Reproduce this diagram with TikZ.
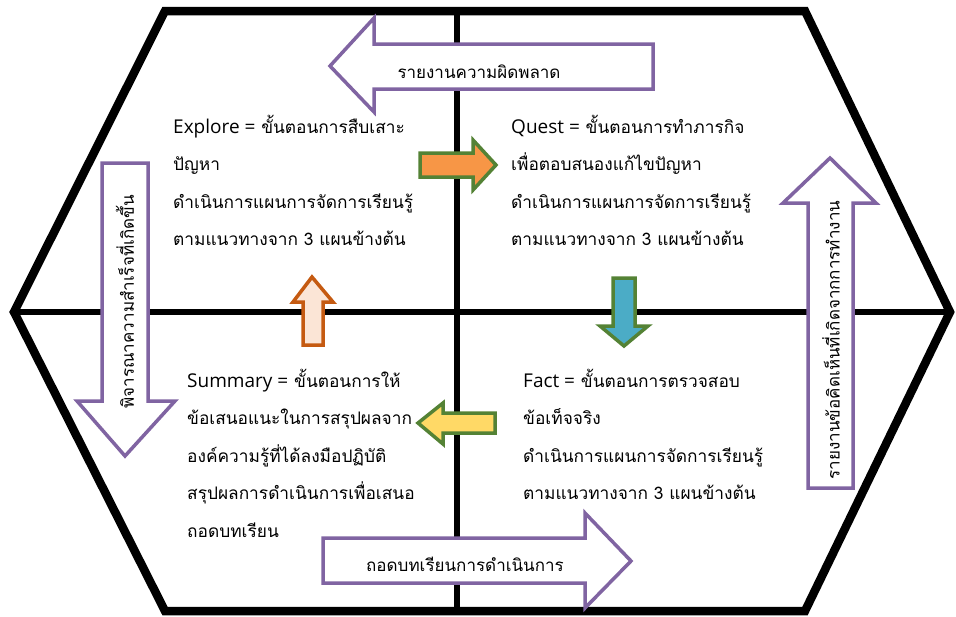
\documentclass[tikz,border=0pt]{standalone}
\usepackage{fontspec}
\setmainfont[Script=Thai]{Loma}
\newfontfamily\latinf{Open Sans}
\definecolor{bpurple}{RGB}{128,100,162}
\definecolor{bgreen}{RGB}{84,130,53}
\definecolor{borange}{RGB}{247,150,70}
\definecolor{bblue}{RGB}{75,172,198}
\definecolor{byellow}{RGB}{255,217,102}
\definecolor{bpeach}{RGB}{251,229,214}
\definecolor{brust}{RGB}{197,90,17}
\newcommand{\stagename}[1]{{\fontsize{19}{37.5}\latinf #1 =}}
\tikzset{
  frame/.style={line width=8.5pt,line join=miter},
  cross/.style={line width=6.5pt},
  bigarrow/.style={draw=bpurple,line width=3.5pt,fill=white,line join=miter},
  smallarrow/.style={draw=bgreen,line width=3.5pt,line join=miter},
  stagetext/.style={anchor=base west,align=left,inner sep=0pt,font=\fontsize{17.3}{37.5}\selectfont},
  arrowtext/.style={inner sep=0pt,font=\fontsize{17}{20}\selectfont},
}
\begin{document}
\begin{tikzpicture}[x=1pt,y=-1pt]
\useasboundingbox (0,0) rectangle (956,616);
% frame
\draw[cross] (457,11)--(457,611);
\draw[cross] (14,312)--(950,312);
\draw[frame] (165,11)--(805,11)--(950,312)--(805,611)--(165,611)--(14,312)--cycle;
% big arrows
\draw[bigarrow] (330,66)--(374,18)--(374,44)--(653,44)--(653,89)--(374,89)--(374,112)--cycle;
\draw[bigarrow] (323,538)--(585,538)--(585,513)--(631,561)--(585,608)--(585,583)--(323,583)--cycle;
\draw[bigarrow] (102,163)--(148,163)--(148,401)--(175,401)--(125,456)--(77,401)--(102,401)--cycle;
\draw[bigarrow] (830,158)--(876,203)--(853,203)--(853,488)--(808,488)--(808,203)--(783,203)--cycle;
\node[arrowtext] (errlbl) at (479,72) {รายงานความผิดพลาด};
\node[arrowtext] (lessonlbl) at (465,564) {ถอดบทเรียนการดำเนินการ};
\node[arrowtext,rotate=90] (successlbl) at (125,302) {พิจารณาความสำเร็จที่เกิดขึ้น};
\node[arrowtext,rotate=90] (opinionlbl) at (831,340) {รายงานข้อคิดเห็นที่เกิดจากการทำงาน};
% small arrows
\draw[smallarrow,fill=borange] (420,153)--(473,153)--(473,140)--(496,165)--(473,190)--(473,177)--(420,177)--cycle;
\draw[smallarrow,fill=bblue] (613,278)--(635,278)--(635,326)--(648,326)--(624,346)--(600,326)--(613,326)--cycle;
\draw[smallarrow,fill=byellow] (418,423)--(443,403)--(443,413)--(495,413)--(495,433)--(443,433)--(443,444)--cycle;
\draw[draw=brust,line width=3.5pt,line join=miter,fill=bpeach] (312,277)--(333,302)--(323,302)--(323,345)--(303,345)--(303,302)--(293,302)--cycle;
% stages (base = last line)
\node[stagetext] (explore) at (173,245.5) {\stagename{Explore} ขั้นตอนการสืบเสาะ\\ปัญหา\\ดำเนินการแผนการจัดการเรียนรู้\\ตามแนวทางจาก 3 แผนข้างต้น};
\node[stagetext] (quest) at (511,245.5) {\stagename{Quest} ขั้นตอนการทำภารกิจ\\เพื่อตอบสนองแก้ไขปัญหา\\ดำเนินการแผนการจัดการเรียนรู้\\ตามแนวทางจาก 3 แผนข้างต้น};
\node[stagetext] (summary) at (187,537) {\stagename{Summary} ขั้นตอนการให้\\ข้อเสนอแนะในการสรุปผลจาก\\องค์ความรู้ที่ได้ลงมือปฏิบัติ\\สรุปผลการดำเนินการเพื่อเสนอ\\ถอดบทเรียน};
\node[stagetext] (fact) at (523,499.5) {\stagename{Fact} ขั้นตอนการตรวจสอบ\\ข้อเท็จจริง\\ดำเนินการแผนการจัดการเรียนรู้\\ตามแนวทางจาก 3 แผนข้างต้น};
\end{tikzpicture}
\end{document}
